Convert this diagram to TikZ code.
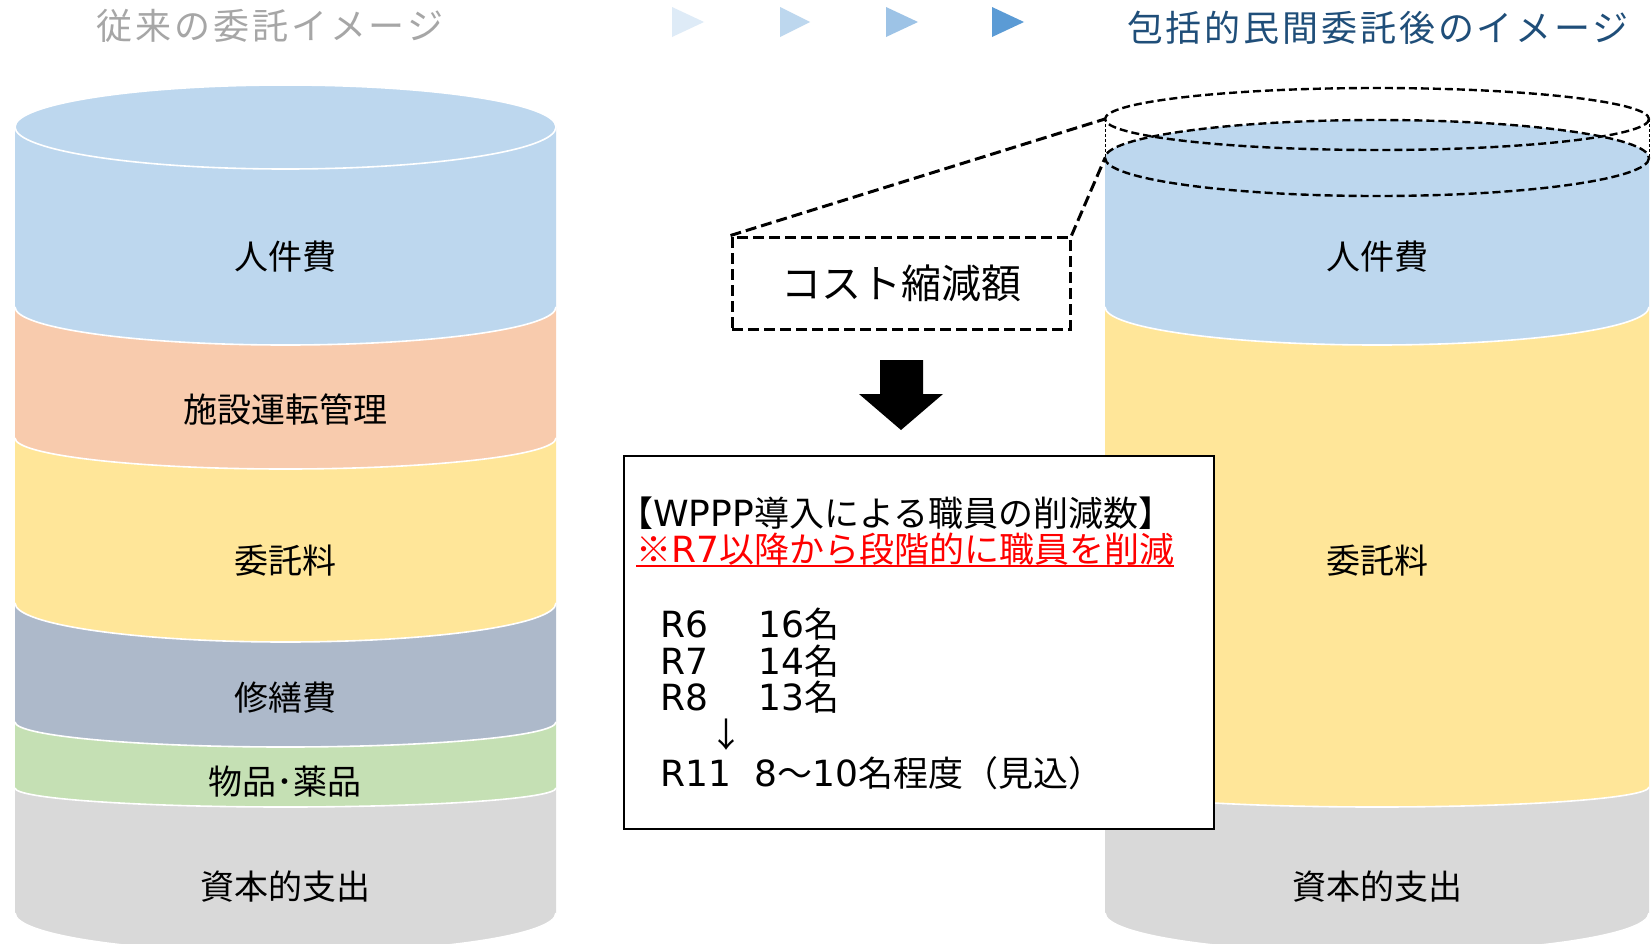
\documentclass[tikz,border=0pt]{standalone}
\usepackage{fontspec}
\setmainfont{Noto Sans CJK JP}
\newfontfamily\latf[Scale=1.03]{DejaVu Sans}
\definecolor{cBlue}{HTML}{BDD7EE}
\definecolor{cOrange}{HTML}{F8CBAD}
\definecolor{cYellow}{HTML}{FFE699}
\definecolor{cSlate}{HTML}{ADB9CA}
\definecolor{cGreen}{HTML}{C5E0B4}
\definecolor{cGray}{HTML}{D9D9D9}
\definecolor{cTitleL}{HTML}{A6A6A6}
\definecolor{cTitleR}{HTML}{1F4E79}
\definecolor{triA}{HTML}{DEEBF7}
\definecolor{triB}{HTML}{BDD7EE}
\definecolor{triC}{HTML}{9DC3E6}
\definecolor{triD}{HTML}{5B9BD5}
\definecolor{cRed}{HTML}{FF0000}
\newcommand\cylLayer[6]{%
  \fill[#6] ({#1-#2},#3) -- ({#1-#2},#4) arc[start angle=180,end angle=0,x radius=#2,y radius=#5] -- ({#1+#2},#3) -- cycle;
  \draw[white,line width=1.6pt] ({#1-#2},#4) arc[start angle=180,end angle=0,x radius=#2,y radius=#5];}
\tikzset{
  lbl/.style={font=\fontsize{34}{40}\selectfont, inner sep=0pt, text=black},
  infotxt/.style={font=\fontsize{35}{40}\selectfont, inner sep=0pt, anchor=base west, text=black},
  titleL/.style={font=\fontsize{36}{44}\selectfont\addfontfeature{LetterSpace=8}, inner sep=0pt, text=cTitleL},
  titleR/.style={font=\fontsize{36}{44}\selectfont\addfontfeature{LetterSpace=8}, inner sep=0pt, text=cTitleR},
  dashthick/.style={line width=3pt, dash pattern=on 11pt off 5pt},
  dashell/.style={line width=2.4pt, dash pattern=on 8pt off 4pt},
  dashthin/.style={line width=0.8pt, dash pattern=on 3pt off 2pt},
}
\begin{document}
\begin{tikzpicture}[x=1pt,y=-1pt]
\useasboundingbox (0,0) rectangle (1652,943);
\clip (0,0) rectangle (1652,943);
\fill[white] (0,0) rectangle (1652,943);

% titles
\node[titleL] (tL) at (270,26) {従来の委託イメージ};
\node[titleR] (tR) at (1378,28) {包括的民間委託後のイメージ};

% chevron triangles
\fill[triA] (672,7) -- (704,22) -- (672,37) -- cycle;
\fill[triB] (780,7) -- (810,22) -- (780,37) -- cycle;
\fill[triC] (886,7) -- (918,22) -- (886,37) -- cycle;
\fill[triD] (992,7) -- (1024,22) -- (992,37) -- cycle;

% left cylinder
\cylLayer{285.5}{270.5}{788}{913}{40}{cGray}
\cylLayer{285.5}{270.5}{722}{788}{19}{cGreen}
\cylLayer{285.5}{270.5}{603}{722}{25}{cSlate}
\cylLayer{285.5}{270.5}{438}{603}{39}{cYellow}
\cylLayer{285.5}{270.5}{307}{438}{31}{cOrange}
\cylLayer{285.5}{270.5}{127}{307}{38}{cBlue}
\fill[cBlue] (285.5,127) ellipse[x radius=270.5,y radius=42];
\draw[white,line width=1.6pt] (285.5,127) ellipse[x radius=270.5,y radius=42];

\node[lbl] (l1) at (285,257) {人件費};
\node[lbl] (l2) at (285,410) {施設運転管理};
\node[lbl] (l3) at (285,561) {委託料};
\node[lbl] (l4) at (285,698) {修繕費};
\node[lbl] (l5) at (285,782) {物品･薬品};
\node[lbl] (l6) at (285,887) {資本的支出};

% right cylinder
\cylLayer{1377}{272}{787}{913}{40}{cGray}
\cylLayer{1377}{272}{307}{787}{20}{cYellow}
\cylLayer{1377}{272}{158}{307}{38}{cBlue}
\fill[cBlue] (1377,158) ellipse[x radius=272,y radius=38];

\node[lbl] (r1) at (1377,257) {人件費};
\node[lbl] (r2) at (1377,561) {委託料};
\node[lbl] (r3) at (1377,887) {資本的支出};

% dashed original top
\draw[dashell] (1377,119) ellipse[x radius=272,y radius=31];
\draw[dashell] (1377,158) ellipse[x radius=272,y radius=38];
\coordinate (uW) at (1105,119);
\coordinate (lW) at (1105,158);
\coordinate (uE) at (1649,119);
\coordinate (lE) at (1649,158);
\draw[dashthin] (uW) -- (lW);
\draw[dashthin] (uE) -- (lE);

% cost box
\node[draw, dashthick, minimum width=338pt, minimum height=92pt, inner sep=0pt,
      font=\fontsize{40}{46}\selectfont] (cost) at (901,283) {コスト縮減額};
\draw[dashthick] (cost.north west) -- (uW);
\draw[dashthick] (cost.north east) -- (lW);

% block arrow
\fill[black] (880,360) -- (923,360) -- (923,394) -- (943,394) -- (901,430) -- (859,394) -- (880,394) -- cycle;

% info box
\node[draw, fill=white, line width=2.2pt, minimum width=590pt, minimum height=373pt,
      inner sep=0pt, anchor=north west] (info) at (623,455) {};
\node[infotxt] (i1) at (618,526) {【{\latf WPPP}導入による職員の削減数】};
\node[infotxt, text=cRed] (i2) at (636,562) {※{\latf R7}以降から段階的に職員を削減};
\draw[cRed, line width=1.6pt] ([yshift=-4pt]i2.base west) -- ([yshift=-4pt]i2.base east);
\node[infotxt] (i3) at (660,637) {\makebox[98pt][l]{\latf R6}{\latf 16}名};
\node[infotxt] (i4) at (660,674) {\makebox[98pt][l]{\latf R7}{\latf 14}名};
\node[infotxt] (i5) at (660,710) {\makebox[98pt][l]{\latf R8}{\latf 13}名};
\node[lbl] (i6) at (726,735) {↓};
\node[infotxt] (i7) at (660,786) {\makebox[94pt][l]{\latf R11}{\latf 8}～{\latf 10}名程度（見込）};
\end{tikzpicture}
\end{document}
